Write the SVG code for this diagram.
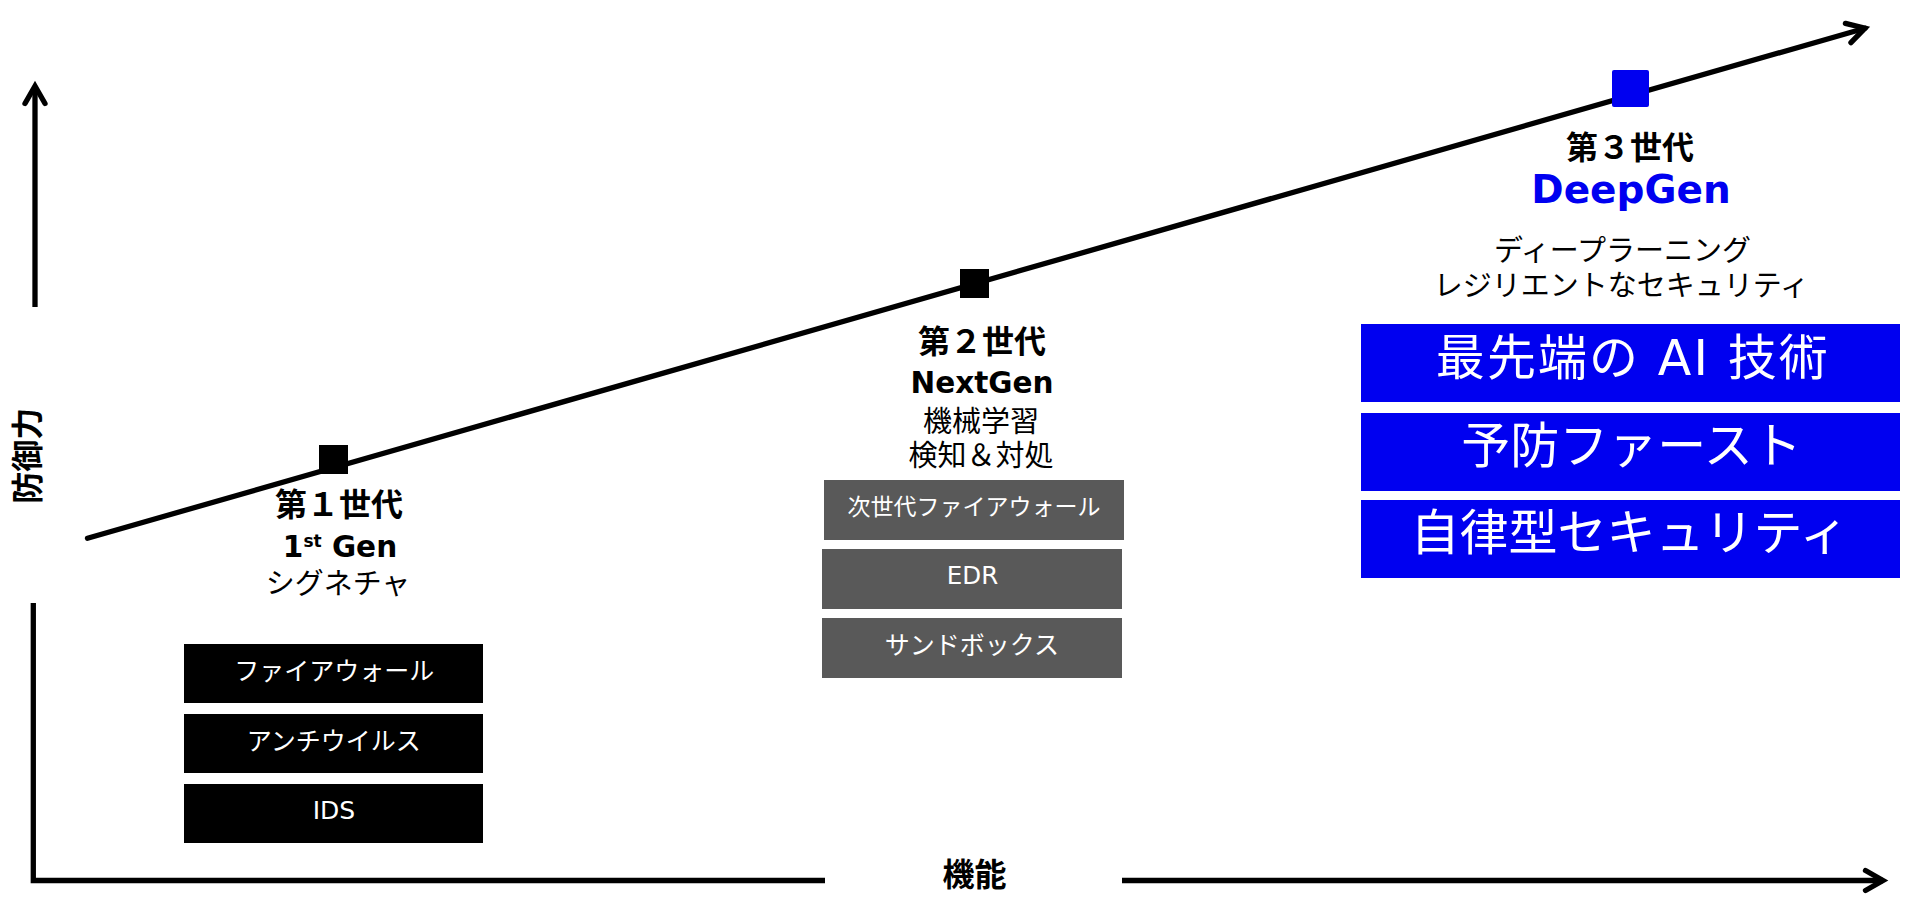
<svg xmlns="http://www.w3.org/2000/svg" width="1921" height="919" viewBox="0 0 1921 919">
  <defs>
    <style>
      .jp { font-family: "Noto Sans CJK JP", "Noto Sans CJK SC", sans-serif; }
      .lat { font-family: "DejaVu Sans", "Noto Sans CJK JP", sans-serif; }
      .b { font-weight: bold; }
      .c { text-anchor: middle; }
      .w { fill: #ffffff; }
      .k { fill: #000000; }
      .blue { fill: #0000F0; }
      .axis { fill: none; stroke: #000; stroke-width: 5.3; stroke-linejoin: miter; }
      .gray { fill: #595959; }
    </style>
    <marker id="chev" markerUnits="userSpaceOnUse" viewBox="-30 -20 40 40" markerWidth="40" markerHeight="40" refX="0" refY="0" orient="auto" overflow="visible">
      <path d="M-17.5,-10 L0,0 L-17.5,10" fill="none" stroke="#000" stroke-width="5.3" stroke-linecap="round" stroke-linejoin="miter"/>
    </marker>
  </defs>
  <rect x="0" y="0" width="1921" height="919" fill="#ffffff"/>

  <g id="connectors">
    <line class="axis" x1="35" y1="307" x2="35" y2="86" marker-end="url(#chev)"/>
    <path class="axis" d="M33.3,603 L33.3,880.5 L825,880.5"/>
    <line class="axis" x1="1122" y1="880.5" x2="1883" y2="880.5" marker-end="url(#chev)"/>
    <line class="axis" x1="87.5" y1="538.3" x2="1865" y2="28.2" stroke-width="5.5" stroke-linecap="round" marker-end="url(#chev)"/>
  </g>

  <g id="axis-labels">
    <text class="jp b k c" font-size="32" transform="translate(26.7,455.8) rotate(-90)" x="0" y="12">防御力</text>
    <text class="jp b k c" font-size="32" x="974.5" y="886">機能</text>
  </g>

  <g id="gen1">
    <rect x="319" y="445" width="29" height="29" fill="#000"/>
    <text class="jp b k c" font-size="32" x="339" y="516">第１世代</text>
    <text class="lat b k c" font-size="29.5" x="340" y="556.7">1<tspan font-size="17" dy="-9.5">st</tspan><tspan dy="9.5"> Gen</tspan></text>
    <text class="jp k c" font-size="29" x="338" y="593.5">シグネチャ</text>
    <g id="gen1-boxes">
      <rect x="184" y="644" width="299" height="59" fill="#000"/>
      <text class="jp w c" font-size="25" x="334.3" y="680.3">ファイアウォール</text>
      <rect x="184" y="714" width="299" height="59" fill="#000"/>
      <text class="jp w c" font-size="25" x="333.7" y="750.3">アンチウイルス</text>
      <rect x="184" y="784" width="299" height="59" fill="#000"/>
      <text class="lat w c" font-size="25" x="334" y="819.3">IDS</text>
    </g>
  </g>

  <g id="gen2">
    <rect x="960" y="269" width="29" height="29" fill="#000"/>
    <text class="jp b k c" font-size="32" x="982" y="352.5">第２世代</text>
    <text class="lat b k c" font-size="29.5" x="982" y="392.7">NextGen</text>
    <text class="jp k c" font-size="29" x="981" y="431.5">機械学習</text>
    <text class="jp k c" font-size="29" x="981" y="466">検知＆対処</text>
    <g id="gen2-boxes">
      <rect class="gray" x="824" y="480" width="300" height="60"/>
      <text class="jp w c" font-size="23" x="974" y="515">次世代ファイアウォール</text>
      <rect class="gray" x="822" y="549" width="300" height="60"/>
      <text class="lat w c" font-size="24.5" x="972.5" y="584.3">EDR</text>
      <rect class="gray" x="822" y="618" width="300" height="60"/>
      <text class="jp w c" font-size="25" x="972" y="653.5">サンドボックス</text>
    </g>
  </g>

  <g id="gen3">
    <rect class="blue" x="1612" y="70" width="37" height="37" rx="2"/>
    <text class="jp b k c" font-size="32" x="1630" y="158.5">第３世代</text>
    <text class="lat b blue c" font-size="39" x="1631" y="203.3">DeepGen</text>
    <text class="jp k c" font-size="29" x="1622.5" y="260.5">ディープラーニング</text>
    <text class="jp k c" font-size="29" x="1621.5" y="296">レジリエントなセキュリティ</text>
    <g id="gen3-boxes">
      <rect class="blue" x="1361" y="324" width="539" height="78"/>
      <text class="lat w c" font-size="49" x="1631.8" y="375" textLength="392" lengthAdjust="spacing">最先端の AI 技術</text>
      <rect class="blue" x="1361" y="413" width="539" height="78"/>
      <text class="jp w c" font-size="49" x="1631.6" y="463">予防ファースト</text>
      <rect class="blue" x="1361" y="500" width="539" height="78"/>
      <text class="jp w c" font-size="49" x="1629.6" y="550">自律型セキュリティ</text>
    </g>
  </g>
</svg>
